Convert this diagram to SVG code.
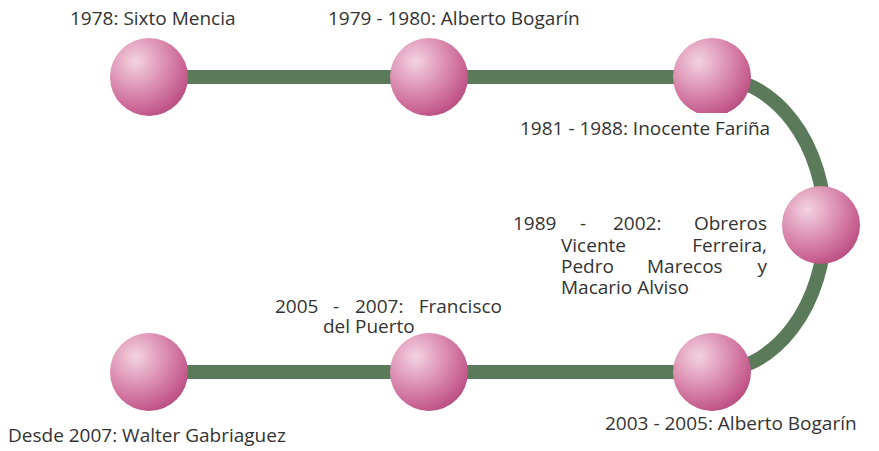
<svg xmlns="http://www.w3.org/2000/svg" width="879" height="451" viewBox="0 0 879 451">
<defs>
<radialGradient id="ball" cx="0.33" cy="0.3" r="0.8">
<stop offset="0" stop-color="#f3d3e0"/>
<stop offset="0.45" stop-color="#dd92b3"/>
<stop offset="0.85" stop-color="#c45a8c"/>
<stop offset="1" stop-color="#b04a7c"/>
</radialGradient>
</defs>
<style>
.t{font-family:"Open Sans","Liberation Sans",sans-serif;font-size:19px;fill:#333333}
.e{text-anchor:end}
.n{fill:url(#ball)}
.c{fill:none;stroke:#5b7a5a;stroke-width:14}
</style>
<rect width="879" height="451" fill="#ffffff"/>
<g id="connectors">
<line class="c" x1="149" y1="77" x2="712" y2="77"/>
<line class="c" x1="149" y1="372" x2="712" y2="372"/>
<path class="c" d="M712,77 A113,147.5 0 0 1 712,372"/>
</g>
<g id="n1978">
<circle class="n" cx="149" cy="77" r="39"/>
<text class="t" x="70" y="25">1978: Sixto Mencia</text>
</g>
<g id="n1979">
<circle class="n" cx="429" cy="77" r="39"/>
<text class="t" x="328" y="25">1979 - 1980: Alberto Bogarín</text>
</g>
<g id="n1981">
<circle class="n" cx="712" cy="77" r="39"/>
<rect x="515" y="113" width="255" height="32" fill="#ffffff"/>
<text class="t" x="520" y="135">1981 - 1988: Inocente Fariña</text>
</g>
<g id="n1989">
<circle class="n" cx="821" cy="225" r="39"/>
<text class="t" x="513" y="230">1989</text>
<text class="t" x="580" y="230">-</text>
<text class="t" x="613" y="230">2002:</text>
<text class="t e" x="767" y="230">Obreros</text>
<text class="t" x="561" y="252">Vicente</text>
<text class="t e" x="767" y="252">Ferreira,</text>
<text class="t" x="561" y="273">Pedro</text>
<text class="t" x="647" y="273">Marecos</text>
<text class="t e" x="767" y="273">y</text>
<text class="t" x="561" y="294">Macario Alviso</text>
</g>
<g id="n2003">
<circle class="n" cx="712" cy="372" r="39"/>
<text class="t" x="605" y="430">2003 - 2005: Alberto Bogarín</text>
</g>
<g id="n2005">
<circle class="n" cx="429" cy="372" r="39"/>
<text class="t" x="275" y="313">2005</text>
<text class="t" x="333" y="313">-</text>
<text class="t" x="355" y="313">2007:</text>
<text class="t e" x="502" y="313">Francisco</text>
<text class="t" x="323" y="333">del Puerto</text>
</g>
<g id="n2007">
<circle class="n" cx="149" cy="372" r="39"/>
<text class="t" x="8" y="442">Desde 2007: Walter Gabriaguez</text>
</g>
</svg>
